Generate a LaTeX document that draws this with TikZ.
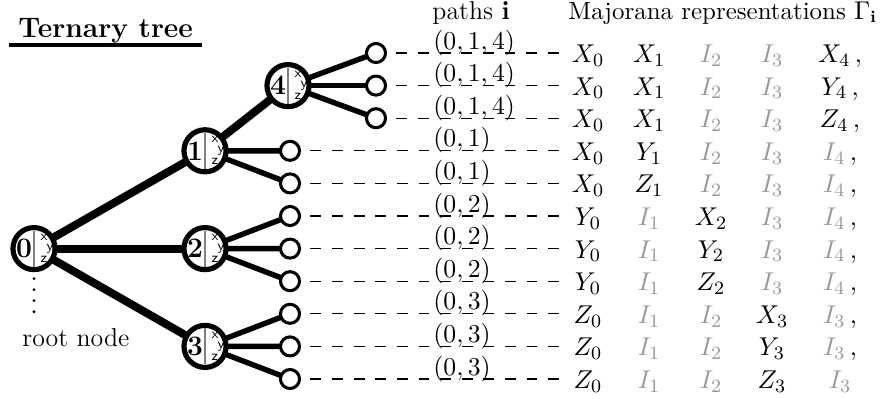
\documentclass[tikz,border=0pt]{standalone}
\usetikzlibrary{calc,backgrounds}

% internal tree vertex: name, x, y, number
\newcommand\treevertex[4]{%
  \node[vertex] (#1) at (#2,#3) {};
  \draw[divider] ($(#1)+(0,-18)$) -- ($(#1)+(0,18)$);
  \node[inner sep=0pt,font=\fontsize{12}{12}\selectfont\bfseries] at ($(#1)+(-10,0)$) {#4};
  \node[axis letter] at ($(#1)+(10,-11)$) {x};
  \node[axis letter] at ($(#1)+(16,0)$) {y};
  \node[axis letter] at ($(#1)+(10,11)$) {z};
}
% identity factor, drawn faded
\newcommand\idf[1]{{\color{black!40}I_{#1}}}

\begin{document}
\begin{tikzpicture}[x=0.4255pt,y=-0.4255pt,
  every node/.style={font=\fontsize{11}{13}\selectfont},
  vertex/.style={circle,draw,fill=white,line width=2.2pt,minimum size=17.9pt,inner sep=0pt},
  leaf/.style={circle,draw,fill=white,line width=1.3pt,minimum size=8.1pt,inner sep=0pt},
  trunk/.style={line width=3.4pt},
  twig/.style={line width=2.3pt},
  path line/.style={line width=0.55pt,dash pattern=on 4.6pt off 4.6pt,shorten <=4pt,shorten >=5pt},
  txt/.style={inner sep=0pt,anchor=base west},
  entry/.style={inner sep=0pt,anchor=base},
  axis letter/.style={inner sep=0pt,font=\fontsize{6}{6}\selectfont\sffamily},
  divider/.style={black!50,line width=0.5pt}
]
\useasboundingbox (0,0) rectangle (881,398);

% title and headers
\node[txt,font=\fontsize{12}{14}\selectfont\bfseries] (title) at (18,37) {Ternary tree};
\draw[line width=1.3pt] ($(title.base west)+(-9,8)$) -- ($(title.base east)+(9,8)$);
\node[txt] (hpaths) at (432,19) {paths $\mathbf{i}$};
\node[txt,font=\fontsize{10.6}{13}\selectfont] (hmaj) at (568,19) {Majorana representations $\Gamma_{\mathbf{i}}$};

% internal vertices
\treevertex{n0}{34}{248.6}{0}
\treevertex{n1}{205}{150.8}{1}
\treevertex{n2}{205}{248.6}{2}
\treevertex{n3}{205}{346.4}{3}
\treevertex{n4}{288}{85.6}{4}

% root marker
\draw[line width=1.3pt,line cap=round,dash pattern=on 0pt off 4.7pt]
  ($(n0)+(0,30)$) -- ($(n0)+(0,64)$);
\node[txt] (root) at (22,346) {root node};

% leaves
\foreach \i/\x in {1/376,2/376,3/376,4/290,5/290,6/290,7/290,8/290,9/290,10/290,11/290}{
  \pgfmathsetmacro\yy{53+32.6*(\i-1)}
  \node[leaf] (l\i) at (\x,\yy) {};
}

% edges
\begin{pgfonlayer}{background}
  \foreach \t in {n1,n2,n3}{\draw[trunk] (n0.center) -- (\t.center);}
  \draw[trunk] (n1.center) -- (n4.center);
  \foreach \p/\c in {n4/l1,n4/l2,n4/l3,n1/l4,n1/l5,n2/l6,n2/l7,n2/l8,n3/l9,n3/l10,n3/l11}
    {\draw[twig] (\p.center) -- (\c.center);}
\end{pgfonlayer}

% Majorana strings and paths
\foreach \r/\pth/\a/\b/\c/\d/\e in {
  1/{(0,1,4)}/{X_0}/{X_1}/{\idf2}/{\idf3}/{X_4\,,},
  2/{(0,1,4)}/{X_0}/{X_1}/{\idf2}/{\idf3}/{Y_4\,,},
  3/{(0,1,4)}/{X_0}/{X_1}/{\idf2}/{\idf3}/{Z_4\,,},
  4/{(0,1)}/{X_0}/{Y_1}/{\idf2}/{\idf3}/{\idf4\,,},
  5/{(0,1)}/{X_0}/{Z_1}/{\idf2}/{\idf3}/{\idf4\,,},
  6/{(0,2)}/{Y_0}/{\idf1}/{X_2}/{\idf3}/{\idf4\,,},
  7/{(0,2)}/{Y_0}/{\idf1}/{Y_2}/{\idf3}/{\idf4\,,},
  8/{(0,2)}/{Y_0}/{\idf1}/{Z_2}/{\idf3}/{\idf4\,,},
  9/{(0,3)}/{Z_0}/{\idf1}/{\idf2}/{X_3}/{\idf3\,,},
  10/{(0,3)}/{Z_0}/{\idf1}/{\idf2}/{Y_3}/{\idf3\,,},
  11/{(0,3)}/{Z_0}/{\idf1}/{\idf2}/{Z_3}/{\idf3}}{
  \pgfmathsetmacro\yy{53+32.6*(\r-1)}
  \pgfmathsetmacro\yb{\yy+9.5}
  \node[entry] (m\r-1) at (588,\yb) {$\a$};
  \node[entry] (m\r-2) at (649,\yb) {$\b$};
  \node[entry] (m\r-3) at (711,\yb) {$\c$};
  \node[entry] (m\r-4) at (772,\yb) {$\d$};
  \node[entry] (m\r-5) at (840,\yb) {$\e$};
  \draw[path line] (l\r) -- (l\r -| m\r-1.west);
  \pgfmathsetmacro\yl{\yy-4}
  \node[txt] (p\r) at (433,\yl) {$\pth$};
}
\end{tikzpicture}
\end{document}
